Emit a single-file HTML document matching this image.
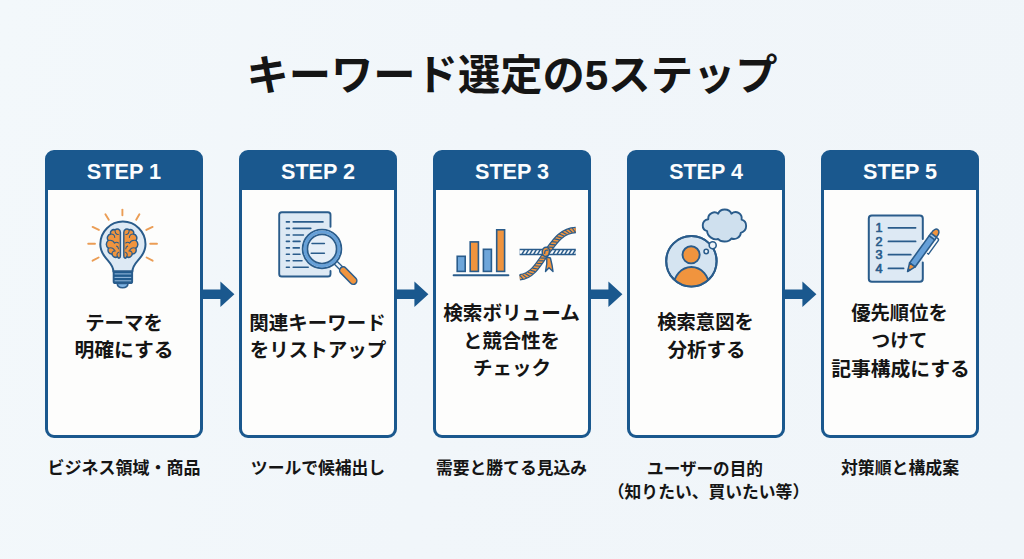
<!DOCTYPE html>
<html lang="ja">
<head>
<meta charset="utf-8">
<title>キーワード選定の5ステップ</title>
<style>
html,body{margin:0;padding:0}
body{background:#f1f6fa;font-family:"Liberation Sans",sans-serif}
#stage{position:relative;width:1024px;height:559px;overflow:hidden;
 background:linear-gradient(100deg,#f3f8fb 0%,#f1f6fa 45%,#f0f5f9 100%)}
svg{position:absolute;overflow:visible;display:block}
.tx{fill:#151515}
.tx text{font-family:"Liberation Sans","Noto Sans CJK JP",sans-serif;font-weight:bold;text-anchor:middle}
.sr{position:absolute;margin:0;color:transparent;font-weight:bold;white-space:nowrap;text-align:center;
 overflow:hidden;line-height:1.35;user-select:text}
.card{position:absolute;top:150px;width:158px;height:288px;box-sizing:border-box;
 border:3px solid #1a588e;border-radius:9px;overflow:hidden;background-origin:border-box;
 background:linear-gradient(#1a588e 0,#1a588e 40px,#fdfdfc 40px,#fdfdfc 100%) border-box}
.hd{position:absolute;left:0;top:0;width:100%;height:37px}
.arrow{fill:#1a588e}
.w{fill:#fcfdfe}
</style>
</head>
<body>
<div id="stage">
<h1 class="sr" style="left:240px;top:48px;width:544px;height:50px;font-size:40px">キーワード選定の5ステップ</h1>
<svg class="tx" role="img" aria-label="キーワード選定の5ステップ" style="left:240px;top:44px" width="544" height="60" viewBox="240 44 544 60"><text x="512" y="90" font-size="42.3">キーワード選定の5ステップ</text></svg>
<section class="card" style="left:45px"><div class="hd"></div></section>
<h2 class="sr" style="left:45px;top:158px;width:158px;height:26px;font-size:21px">STEP 1</h2>
<svg class="tx w" role="img" aria-label="STEP 1" style="left:45px;top:150px" width="158" height="40" viewBox="45 150 158 40"><text x="124" y="178.7" font-size="21.7">STEP 1</text></svg>
<svg class="ic" role="img" aria-label="idea" style="left:84px;top:204px" width="78" height="88" viewBox="84 204 78 88" fill="none" stroke-linecap="round" stroke-linejoin="round"><g stroke="#eb9d55" stroke-width="1.9"><path d="M122.4 209.6L122.4 215.2"/><path d="M105.4 214.2L108.8 219.8"/><path d="M139.4 214.2L136.2 219.8"/><path d="M92.6 226.9L98.9 229.9"/><path d="M152.6 226.9L146.3 229.9"/><path d="M88.2 243.7L95.0 243.7"/><path d="M150.2 243.7L157.0 243.7"/><path d="M92.6 260.7L98.6 257.5"/><path d="M152.6 260.7L146.6 257.5"/></g><path fill="#dde9f4" stroke="#2a5c8b" stroke-width="2" d="M113.4 271.4C113.4 265 108.6 261.8 104.6 256.4C101.8 252.6 100.3 248 100.3 244.2A22.6 22.6 0 0 1 145.5 244.2C145.5 248 144 252.6 141.2 256.4C137.2 261.8 132.4 265 132.4 271.4Z"/><path fill="#215b8e" stroke="#2a5c8b" stroke-width="1.4" d="M113.4 271.3H132.4V281.4Q132.4 283.3 130.4 283.3H115.4Q113.4 283.3 113.4 281.4Z"/><path stroke="#9fc2e4" stroke-width="0.95" stroke-linecap="butt" d="M114.6 273.9H131.2M114.6 277.4H131.2M114.6 280.8H131.2"/><path fill="#7db2e2" stroke="#2a5c8b" stroke-width="1.5" d="M117.2 283.6H128C127.8 286.4 125.6 287.7 122.6 287.7C119.6 287.7 117.4 286.4 117.2 283.6Z"/><g transform="matrix(1 0 0 1.045 0 -10.1)"><g><path fill="#f0943e" stroke="#2a5c8b" stroke-width="1.45" d="M120.4 232C120.4 229 117.2 227.8 115 229.6C112.2 228.8 109.8 231 110.6 233.6C107.6 234.2 106.4 237.6 108.2 239.8C105.6 241.8 105.8 245.8 108.4 247.2C107.2 250 109 253 112 252.8C112.4 255.6 115.4 256.8 117.4 255.2C118.6 257.6 120.4 256.8 120.4 254.4Z"/><path stroke="#2a5c8b" stroke-width="1.05" d="M115 229.6C114.8 232.4 116.4 234.2 118.4 234M110.6 233.6C112.8 233.2 114.6 234.6 114.8 236.8M108.2 239.8C111 239.2 113.6 240.4 114.6 242.4M114.6 242.4C115.8 241.2 117.4 241.2 118.4 242.2M108.4 247.2C110.8 246.4 113 247 114.2 248.6M112 252.8C111.8 250.8 113.4 249.4 115.4 249.8M117.4 255.2C116.6 253.2 117.2 251.6 118.6 251M116.6 245.2C117.8 245.6 118.4 246.6 118.4 247.8"/></g><g transform="matrix(-1 0 0 1 244.2 0)"><path fill="#f0943e" stroke="#2a5c8b" stroke-width="1.45" d="M120.4 232C120.4 229 117.2 227.8 115 229.6C112.2 228.8 109.8 231 110.6 233.6C107.6 234.2 106.4 237.6 108.2 239.8C105.6 241.8 105.8 245.8 108.4 247.2C107.2 250 109 253 112 252.8C112.4 255.6 115.4 256.8 117.4 255.2C118.6 257.6 120.4 256.8 120.4 254.4Z"/><path stroke="#2a5c8b" stroke-width="1.05" d="M115 229.6C114.8 232.4 116.4 234.2 118.4 234M110.6 233.6C112.8 233.2 114.6 234.6 114.8 236.8M108.2 239.8C111 239.2 113.6 240.4 114.6 242.4M114.6 242.4C115.8 241.2 117.4 241.2 118.4 242.2M108.4 247.2C110.8 246.4 113 247 114.2 248.6M112 252.8C111.8 250.8 113.4 249.4 115.4 249.8M117.4 255.2C116.6 253.2 117.2 251.6 118.6 251M116.6 245.2C117.8 245.6 118.4 246.6 118.4 247.8"/></g></g></svg>
<p class="sr" style="left:48px;top:307px;width:152px;height:62px;font-size:19px;line-height:28px">テーマを<br>明確にする</p>
<svg class="tx" role="img" aria-label="テーマを明確にする" style="left:48px;top:307px" width="152" height="64" viewBox="48 307 152 64"><text x="124" y="329.5" font-size="19.4">テーマを</text><text x="124" y="356.8" font-size="19.8">明確にする</text></svg>
<svg class="arrow" aria-hidden="true" style="left:203px;top:278px" width="36" height="32" viewBox="203 278 36 32"><path d="M202 289.5H220.4V281.4L234.4 294.2L220.4 307.1V298.9H202Z"/></svg>
<p class="sr" style="left:27px;top:456px;width:194px;height:25px;font-size:16px;line-height:23px">ビジネス領域・商品</p>
<svg class="tx" role="img" aria-label="ビジネス領域・商品" style="left:27px;top:454px" width="194" height="29" viewBox="27 454 194 29"><text x="124" y="474.4" font-size="17">ビジネス領域・商品</text></svg>
<section class="card" style="left:239px"><div class="hd"></div></section>
<h2 class="sr" style="left:239px;top:158px;width:158px;height:26px;font-size:21px">STEP 2</h2>
<svg class="tx w" role="img" aria-label="STEP 2" style="left:239px;top:150px" width="158" height="40" viewBox="239 150 158 40"><text x="318" y="178.7" font-size="21.6">STEP 2</text></svg>
<svg class="ic" role="img" aria-label="search list" style="left:274px;top:206px" width="90" height="84" viewBox="274 206 90 84" fill="none" stroke-linecap="round" stroke-linejoin="round"><rect x="279.2" y="212.2" width="51.3" height="64.3" rx="2.6" fill="#dde9f4"/><path stroke="#2a5c8b" stroke-width="1.9" d="M330.5 226.8V214.8Q330.5 212.2 327.9 212.2H281.8Q279.2 212.2 279.2 214.8V273.9Q279.2 276.5 281.8 276.5H327.9Q330.5 276.5 330.5 273.9V271"/><path stroke="#2a5c8b" stroke-width="1.6" d="M286.4 221.9H289.4M293.2 221.9H323.0M286.4 228.4H289.4M293.2 228.4H310.8M286.4 235.0H289.4M293.2 235.0H303.4M286.4 241.4H289.4M293.2 241.4H300.0M286.4 247.9H289.4M293.2 247.9H299.3M286.4 254.3H289.4M293.2 254.3H300.0M286.4 260.8H289.4M293.2 260.8H302.0M286.4 267.2H289.4M293.2 267.2H308.2"/><path stroke="#2a5c8b" stroke-width="5.4" d="M334.6 261.6L340.6 267.6"/><path stroke="#e9f1f8" stroke-width="2.6" stroke-linecap="butt" d="M335.6 262.6L341 268"/><path stroke="#2a5c8b" stroke-width="8.6" d="M343.2 270.4L353.3 280.8"/><path stroke="#f0943e" stroke-width="5.6" d="M343.2 270.4L353.3 280.8"/><circle cx="322" cy="248.9" r="19.3" fill="#e6eff8" stroke="#2a5c8b" stroke-width="1.9"/><circle cx="322" cy="248.9" r="16.9" stroke="#66a0d8" stroke-width="3.2"/><circle cx="322" cy="248.9" r="14.6" stroke="#2a5c8b" stroke-width="1.7"/><path stroke="#2a5c8b" stroke-width="1.5" d="M312 243.4H324.4M311.2 253.2H324.4"/></svg>
<p class="sr" style="left:242px;top:306px;width:152px;height:62px;font-size:19px;line-height:28px">関連キーワード<br>をリストアップ</p>
<svg class="tx" role="img" aria-label="関連キーワードをリストアップ" style="left:242px;top:306px" width="152" height="64" viewBox="242 306 152 64"><text x="317.5" y="329.5" font-size="19.5">関連キーワード</text><text x="318" y="356.8" font-size="19.5">をリストアップ</text></svg>
<svg class="arrow" aria-hidden="true" style="left:397px;top:278px" width="36" height="32" viewBox="397 278 36 32"><path d="M396 289.5H414.4V281.4L428.4 294.2L414.4 307.1V298.9H396Z"/></svg>
<p class="sr" style="left:221px;top:456px;width:194px;height:25px;font-size:16px;line-height:23px">ツールで候補出し</p>
<svg class="tx" role="img" aria-label="ツールで候補出し" style="left:221px;top:454px" width="194" height="29" viewBox="221 454 194 29"><text x="318" y="474.4" font-size="16.8">ツールで候補出し</text></svg>
<section class="card" style="left:433px"><div class="hd"></div></section>
<h2 class="sr" style="left:433px;top:158px;width:158px;height:26px;font-size:21px">STEP 3</h2>
<svg class="tx w" role="img" aria-label="STEP 3" style="left:433px;top:150px" width="158" height="40" viewBox="433 150 158 40"><text x="512" y="178.7" font-size="21.6">STEP 3</text></svg>
<svg class="ic" role="img" aria-label="volume and competition" style="left:450px;top:224px" width="130" height="58" viewBox="450 224 130 58" fill="none" stroke-linecap="round" stroke-linejoin="round"><rect x="457.2" y="256.3" width="8.0" height="15.1" fill="#6ea6da" stroke="#2a5c8b" stroke-width="1.6" stroke-linejoin="miter"/><rect x="470.2" y="241.9" width="8.2" height="29.5" fill="#f0943e" stroke="#2a5c8b" stroke-width="1.6" stroke-linejoin="miter"/><rect x="483.4" y="249.3" width="8.0" height="22.1" fill="#6ea6da" stroke="#2a5c8b" stroke-width="1.6" stroke-linejoin="miter"/><rect x="496.7" y="229.8" width="7.9" height="41.6" fill="#f0943e" stroke="#2a5c8b" stroke-width="1.6" stroke-linejoin="miter"/><path stroke="#2a5c8b" stroke-width="1.9" d="M453.6 275.2H508.4"/><path stroke="#2a5c8b" stroke-width="6.4" stroke-linecap="butt" d="M519.6 252H575.8"/><path stroke="#f7fafc" stroke-width="3.6" stroke-linecap="butt" d="M519.6 252H575.8"/><path stroke="#2a5c8b" stroke-width="1.5" stroke-linecap="butt" d="M522.0 254.2L524.6 249.8M525.9 254.2L528.5 249.8M529.8 254.2L532.4 249.8M533.7 254.2L536.3 249.8M537.6 254.2L540.2 249.8M553.2 254.2L555.8 249.8M557.1 254.2L559.7 249.8M561.0 254.2L563.6 249.8M564.9 254.2L567.5 249.8M568.8 254.2L571.4 249.8M572.7 254.2L575.3 249.8"/><path fill="#f0943e" stroke="#2a5c8b" stroke-width="1.4" d="M546.8 257L550.4 258C551.6 262.6 552.6 267 553 271.5L549 267.8L545.5 271.5C546.6 267 547.2 262 546.8 257Z"/><path stroke="#2a5c8b" stroke-width="6.5" stroke-linecap="butt" d="M519.7 277.3C531 276.4 537.5 266.5 545.6 254C553.5 243.5 560.5 230.6 575.8 230"/><path stroke="#f0943e" stroke-width="4.1" stroke-linecap="butt" d="M519.7 277.3C531 276.4 537.5 266.5 545.6 254C553.5 243.5 560.5 230.6 575.8 230"/><path stroke="#2a5c8b" stroke-width="1.1" stroke-linecap="butt" d="M519.6 275.1L523.1 279.1M522.5 274.6L526.7 277.9M525.2 273.6L529.9 276.3M527.8 272.2L532.9 274.1M530.3 270.3L535.5 271.6M532.5 268.1L537.8 269.0M534.6 265.7L540.0 266.3M536.6 263.2L542.0 263.6M538.4 260.7L543.8 260.9M540.3 258.0L545.7 258.1M542.1 255.3L547.5 255.4M544.0 252.4L549.4 252.8M546.0 249.6L551.3 250.0M547.9 247.0L553.2 247.4M549.8 244.4L555.2 244.9M551.9 241.6L557.3 242.3M554.2 238.9L559.5 239.9M556.5 236.5L561.7 237.9M559.1 234.1L564.1 236.1M562.0 232.0L566.7 234.5M565.2 230.2L569.5 233.4M568.5 228.9L572.4 232.6M572.1 228.0L575.5 232.3"/><path fill="#f0943e" stroke="#2a5c8b" stroke-width="1.5" d="M542.2 251.6C542.2 248.6 544.4 247 546.6 247.3C549 247.6 549.8 249.8 549.3 252.3C548.8 255 547.4 256.8 545.2 256.5C543.2 256.2 542.2 254.2 542.2 251.6Z"/><path stroke="#2a5c8b" stroke-width="1.3" d="M544.7 253.4C544.4 251 545.8 249.6 547.6 250.2"/></svg>
<p class="sr" style="left:436px;top:296px;width:152px;height:90px;font-size:19px;line-height:28px">検索ボリューム<br>と競合性を<br>チェック</p>
<svg class="tx" role="img" aria-label="検索ボリュームと競合性をチェック" style="left:436px;top:296px" width="152" height="92" viewBox="436 296 152 92"><text x="511.5" y="320" font-size="19.6">検索ボリューム</text><text x="511.5" y="347.7" font-size="19.4">と競合性を</text><text x="512" y="375.3" font-size="19.5">チェック</text></svg>
<svg class="arrow" aria-hidden="true" style="left:591px;top:278px" width="36" height="32" viewBox="591 278 36 32"><path d="M590 289.5H608.4V281.4L622.4 294.2L608.4 307.1V298.9H590Z"/></svg>
<p class="sr" style="left:415px;top:456px;width:194px;height:25px;font-size:16px;line-height:23px">需要と勝てる見込み</p>
<svg class="tx" role="img" aria-label="需要と勝てる見込み" style="left:415px;top:454px" width="194" height="29" viewBox="415 454 194 29"><text x="511.5" y="474.2" font-size="16.8">需要と勝てる見込み</text></svg>
<section class="card" style="left:627px"><div class="hd"></div></section>
<h2 class="sr" style="left:627px;top:158px;width:158px;height:26px;font-size:21px">STEP 4</h2>
<svg class="tx w" role="img" aria-label="STEP 4" style="left:627px;top:150px" width="158" height="40" viewBox="627 150 158 40"><text x="706" y="178.7" font-size="21.5">STEP 4</text></svg>
<svg class="ic" role="img" aria-label="intent" style="left:660px;top:206px" width="92" height="84" viewBox="660 206 92 84" fill="none" stroke-linecap="round" stroke-linejoin="round"><clipPath id="pc"><circle cx="691.4" cy="261.2" r="25"/></clipPath><circle cx="691.4" cy="261.2" r="25.2" fill="#d5e4f1" stroke="#2a5c8b" stroke-width="2"/><g clip-path="url(#pc)"><ellipse cx="691.4" cy="287" rx="18" ry="20" fill="#f0943e" stroke="#2a5c8b" stroke-width="1.9"/></g><circle cx="691.4" cy="261.2" r="25.2" stroke="#2a5c8b" stroke-width="2"/><circle cx="691.1" cy="254.8" r="8.6" fill="#f0943e" stroke="#2a5c8b" stroke-width="1.9"/><circle cx="706.2" cy="251.5" r="2.2" fill="#eef4f9" stroke="#2a5c8b" stroke-width="1.5"/><circle cx="712.7" cy="245.2" r="3.5" fill="#eef4f9" stroke="#2a5c8b" stroke-width="1.6"/><path fill="#cfe0ee" stroke="#2a5c8b" stroke-width="1.9" d="M707.1 231.1C701.2 229.6 701 220.4 708.3 219.2C707.6 213.4 714.6 210.6 718.2 213.7C720 208 729.4 208 731.4 213.7C736 209.8 742.6 213.6 741.6 219.6C747.6 221.2 748 230.6 740.8 232.8C740.6 237.6 735.4 240 731.4 238.5C729 242.4 720.6 242.6 718.2 239C713.6 240.4 707.4 236.6 707.1 231.1Z"/></svg>
<p class="sr" style="left:630px;top:305px;width:152px;height:62px;font-size:19px;line-height:28px">検索意図を<br>分析する</p>
<svg class="tx" role="img" aria-label="検索意図を分析する" style="left:630px;top:305px" width="152" height="64" viewBox="630 305 152 64"><text x="705.5" y="329.2" font-size="19.3">検索意図を</text><text x="706.5" y="356.7" font-size="19.5">分析する</text></svg>
<svg class="arrow" aria-hidden="true" style="left:785px;top:278px" width="36" height="32" viewBox="785 278 36 32"><path d="M784 289.5H802.4V281.4L816.4 294.2L802.4 307.1V298.9H784Z"/></svg>
<p class="sr" style="left:609px;top:456px;width:194px;height:48px;font-size:16px;line-height:23px">ユーザーの目的<br>（知りたい、買いたい等）</p>
<svg class="tx" role="img" aria-label="ユーザーの目的（知りたい、買いたい等）" style="left:609px;top:454px" width="194" height="52" viewBox="609 454 194 52"><text x="705" y="474.8" font-size="16.6">ユーザーの目的</text><text x="708.5" y="498.2" font-size="16.8">（知りたい、買いたい等）</text></svg>
<section class="card" style="left:821px"><div class="hd"></div></section>
<h2 class="sr" style="left:821px;top:158px;width:158px;height:26px;font-size:21px">STEP 5</h2>
<svg class="tx w" role="img" aria-label="STEP 5" style="left:821px;top:150px" width="158" height="40" viewBox="821 150 158 40"><text x="900" y="178.7" font-size="21.6">STEP 5</text></svg>
<svg class="ic" role="img" aria-label="priority list" style="left:862px;top:208px" width="84" height="80" viewBox="862 208 84 80" fill="none" stroke-linecap="round" stroke-linejoin="round"><rect x="868.8" y="215.5" width="54" height="66.2" rx="3" fill="#dde9f4"/><path stroke="#2a5c8b" stroke-width="2" d="M922.8 239V218.5Q922.8 215.5 919.8 215.5H871.8Q868.8 215.5 868.8 218.5V278.7Q868.8 281.7 871.8 281.7H919.8Q922.8 281.7 922.8 278.7V262.4"/><path stroke="#2a5c8b" stroke-width="1.7" d="M888.4 227.8H915.6M888.4 241.4H915.6M888.4 254.7H910.8M888.4 268.4H903.6"/><g fill="#2a5c8b" stroke="#2a5c8b" stroke-width="0.7" font-family="Liberation Sans, sans-serif" font-size="12.6" text-anchor="middle"><text x="879" y="232.2">1</text><text x="879" y="245.6">2</text><text x="879" y="258.9">3</text><text x="879" y="272.5">4</text></g><g transform="translate(907.2 272.1) rotate(-54.2)"><path stroke="#2a5c8b" stroke-width="1.4" d="M27 6.8H43.4Q45.2 6.8 45.2 5V3.6M27 6.8V5.6"/><path fill="#66a0d8" stroke="#2a5c8b" stroke-width="1.6" d="M8.8 -3.4H42.4V3.4H8.8Z"/><path fill="#9cc3e8" stroke="#2a5c8b" stroke-width="1.5" d="M42.4 -3.4H45.4V3.4H42.4Z"/><path fill="#f0943e" stroke="#2a5c8b" stroke-width="1.5" d="M45.6 -3.2C49.8 -3.8 52.4 -2.1 52.4 0C52.4 2.1 49.8 3.8 45.6 3.2Z"/><path fill="#f0943e" stroke="#2a5c8b" stroke-width="1.5" d="M8.8 -3.4L0.6 0L8.8 3.4Z"/><path fill="#2a5c8b" stroke="#2a5c8b" stroke-width="1" d="M3.4 -1.1L0.6 0L3.4 1.1Z"/></g></svg>
<p class="sr" style="left:824px;top:296px;width:152px;height:90px;font-size:19px;line-height:28px">優先順位を<br>つけて<br>記事構成にする</p>
<svg class="tx" role="img" aria-label="優先順位をつけて記事構成にする" style="left:824px;top:296px" width="152" height="92" viewBox="824 296 152 92"><text x="899.5" y="319.9" font-size="19.3">優先順位を</text><text x="899.5" y="347.1" font-size="18.7">つけて</text><text x="900.5" y="375.5" font-size="19.8">記事構成にする</text></svg>
<p class="sr" style="left:803px;top:456px;width:194px;height:25px;font-size:16px;line-height:23px">対策順と構成案</p>
<svg class="tx" role="img" aria-label="対策順と構成案" style="left:803px;top:454px" width="194" height="29" viewBox="803 454 194 29"><text x="900" y="474.3" font-size="16.9">対策順と構成案</text></svg>
</div>
</body>
</html>
